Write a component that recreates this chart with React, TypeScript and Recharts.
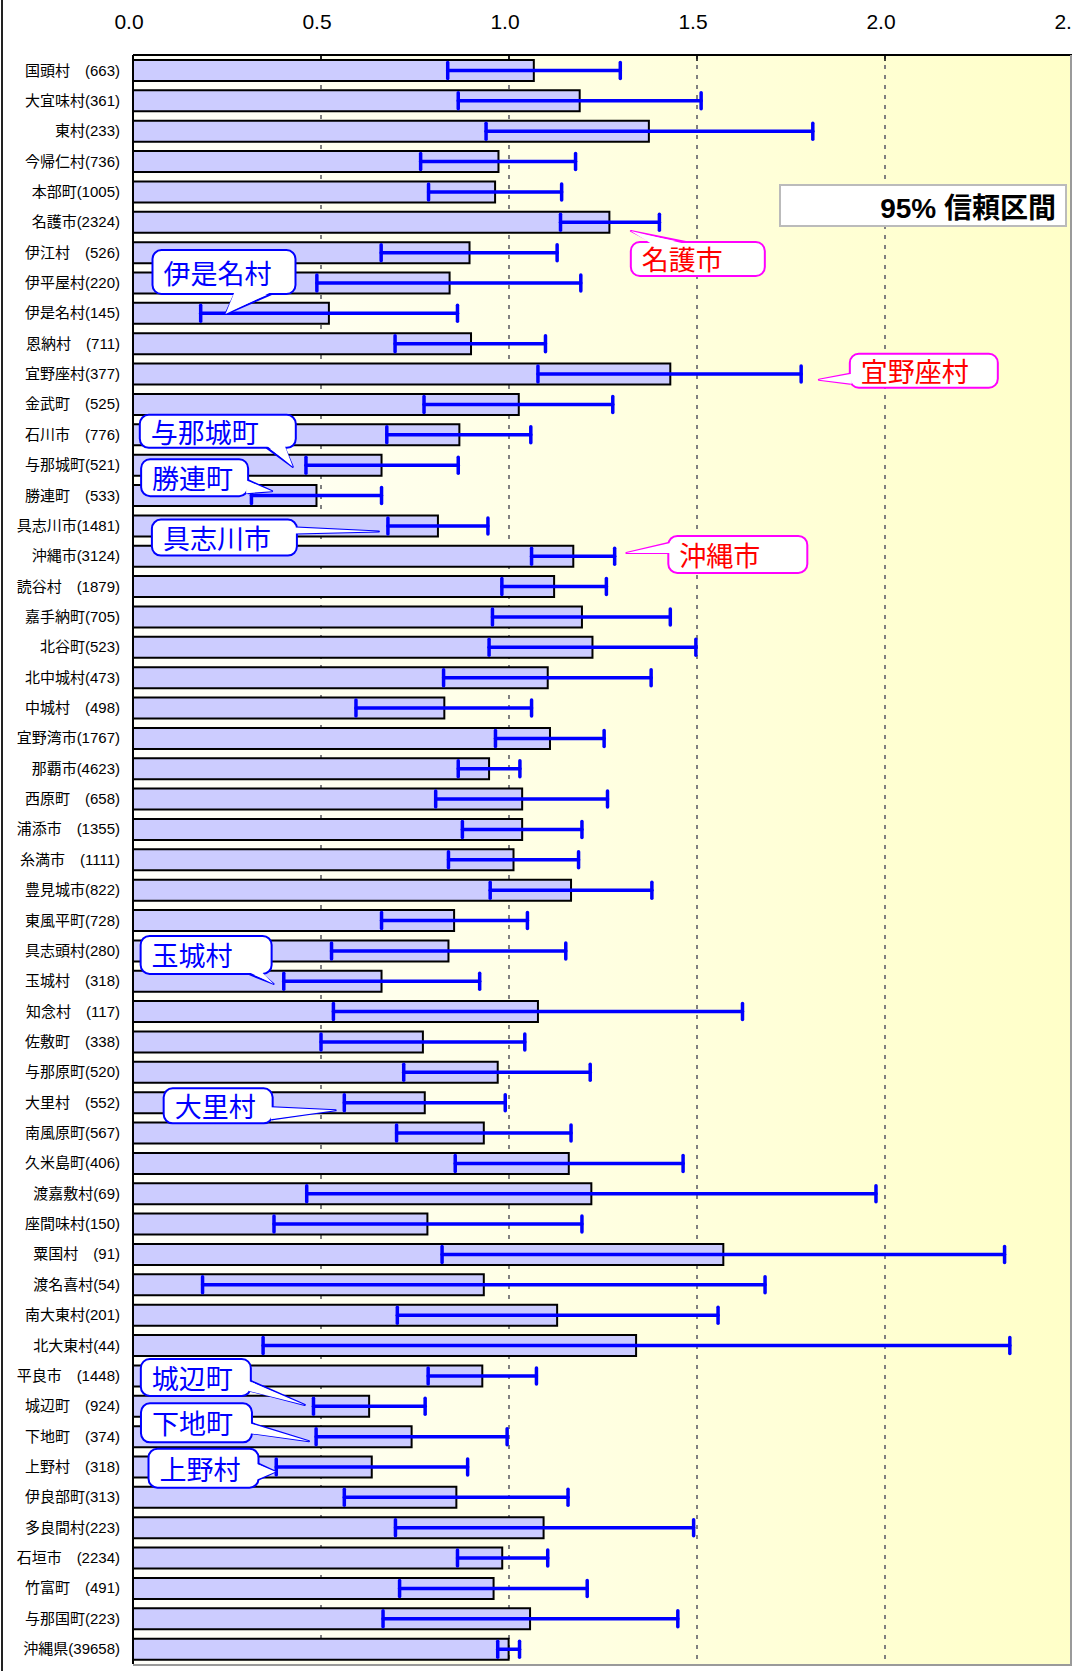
import React from 'react';
import { BarChart, Bar, XAxis, YAxis, CartesianGrid, ErrorBar, ReferenceDot } from 'recharts';

// 市町村 (人数)
const names = [
  '国頭村　(663)', '大宜味村(361)', '東村(233)', '今帰仁村(736)', '本部町(1005)', '名護市(2324)',
  '伊江村　(526)', '伊平屋村(220)', '伊是名村(145)', '恩納村　(711)', '宜野座村(377)', '金武町　(525)',
  '石川市　(776)', '与那城町(521)', '勝連町　(533)', '具志川市(1481)', '沖縄市(3124)', '読谷村　(1879)',
  '嘉手納町(705)', '北谷町(523)', '北中城村(473)', '中城村　(498)', '宜野湾市(1767)', '那覇市(4623)',
  '西原町　(658)', '浦添市　(1355)', '糸満市　(1111)', '豊見城市(822)', '東風平町(728)', '具志頭村(280)',
  '玉城村　(318)', '知念村　(117)', '佐敷町　(338)', '与那原町(520)', '大里村　(552)', '南風原町(567)',
  '久米島町(406)', '渡嘉敷村(69)', '座間味村(150)', '粟国村　(91)', '渡名喜村(54)', '南大東村(201)',
  '北大東村(44)', '平良市　(1448)', '城辺町　(924)', '下地町　(374)', '上野村　(318)', '伊良部町(313)',
  '多良間村(223)', '石垣市　(2234)', '竹富町　(491)', '与那国町(223)', '沖縄県(39658)',
];

const ratios = [
  1.066, 1.188, 1.372, 0.972, 0.963, 1.267,
  0.895, 0.842, 0.521, 0.899, 1.429, 1.026,
  0.868, 0.661, 0.488, 0.811, 1.171, 1.12,
  1.194, 1.222, 1.103, 0.828, 1.109, 0.947,
  1.035, 1.035, 1.012, 1.165, 0.854, 0.839,
  0.661, 1.077, 0.771, 0.97, 0.776, 0.933,
  1.159, 1.219, 0.783, 1.57, 0.933, 1.128,
  1.338, 0.929, 0.628, 0.741, 0.635, 0.86,
  1.092, 0.982, 0.959, 1.056, 0.999,
];

const lower = [
  0.837, 0.865, 0.939, 0.765, 0.786, 1.137,
  0.66, 0.489, 0.18, 0.697, 1.077, 0.774,
  0.675, 0.46, 0.315, 0.678, 1.06, 0.981,
  0.956, 0.947, 0.826, 0.593, 0.964, 0.865,
  0.805, 0.876, 0.839, 0.95, 0.661, 0.528,
  0.401, 0.533, 0.5, 0.72, 0.562, 0.701,
  0.857, 0.462, 0.375, 0.822, 0.185, 0.703,
  0.346, 0.785, 0.48, 0.487, 0.381, 0.562,
  0.698, 0.863, 0.709, 0.665, 0.97,
];

const upper = [
  1.296, 1.511, 1.808, 1.177, 1.14, 1.4,
  1.128, 1.191, 0.863, 1.097, 1.777, 1.276,
  1.058, 0.865, 0.661, 0.944, 1.281, 1.259,
  1.429, 1.497, 1.378, 1.06, 1.253, 1.029,
  1.262, 1.194, 1.185, 1.38, 1.049, 1.151,
  0.922, 1.621, 1.042, 1.216, 0.99, 1.165,
  1.463, 1.976, 1.194, 2.318, 1.681, 1.556,
  2.332, 1.073, 0.777, 0.995, 0.89, 1.157,
  1.491, 1.103, 1.208, 1.449, 1.028,
];

const xTicks = [0, 0.5, 1, 1.5, 2, 2.5];

const data = names.map((name, i) => ({
  name,
  ratio: ratios[i],
  ci: [ratios[i] - lower[i], upper[i] - ratios[i]],
}));

// 吹き出し: row = names の位置, at = 指す値
type Side = 'top' | 'bottom' | 'left' | 'right';
type Callout = {
  row: number; at: number; text: string; tone: 'blue' | 'red';
  tipDy: number; box: [number, number, number, number]; side: Side; tail: [number, number];
};

const callouts: Callout[] = [
  { row: 8, at: 0.246, text: '伊是名村', tone: 'blue', tipDy: 1, box: [-73, -64, 143, 44], side: 'bottom', tail: [9, 46] },
  { row: 5, at: 1.324, text: '名護市', tone: 'red', tipDy: 9, box: [0, 11, 134, 34], side: 'top', tail: [21, 55] },
  { row: 10, at: 1.824, text: '宜野座村', tone: 'red', tipDy: 6, box: [31, -26, 148, 34], side: 'left', tail: [-6, 4] },
  { row: 13, at: 0.425, text: '与那城町', tone: 'blue', tipDy: 2, box: [-153, -52, 156, 33], side: 'bottom', tail: [-26, -8] },
  { row: 14, at: 0.37, text: '勝連町', tone: 'blue', tipDy: -4, box: [-131, -32, 107, 37], side: 'right', tail: [-11, 2] },
  { row: 15, at: 0.654, text: '具志川市', tone: 'blue', tipDy: 6, box: [-227, -12, 145, 36], side: 'right', tail: [-4, 2] },
  { row: 16, at: 1.312, text: '沖縄市', tone: 'red', tipDy: -3, box: [42, -17, 139, 37], side: 'left', tail: [-10, 0] },
  { row: 30, at: 0.374, text: '玉城村', tone: 'blue', tipDy: 3, box: [-133, -48, 131, 38], side: 'bottom', tail: [-25, -12] },
  { row: 34, at: 0.539, text: '大里村', tone: 'blue', tipDy: 8, box: [-172, -22, 109, 35], side: 'right', tail: [-3, 9] },
  { row: 44, at: 0.457, text: '城辺町', tone: 'blue', tipDy: -1, box: [-164, -46, 110, 37], side: 'right', tail: [-24, -14] },
  { row: 45, at: 0.468, text: '下地町', tone: 'blue', tipDy: 5, box: [-168, -38, 111, 39], side: 'right', tail: [-18, -8] },
  { row: 46, at: 0.379, text: '上野村', tone: 'blue', tipDy: 5, box: [-127, -23, 110, 39], side: 'right', tail: [-8, 8] },
];

const Bubble = ({ cx, cy, c }: { cx: number; cy: number; c: Callout }) => {
  const tx = cx;
  const ty = cy + c.tipDy;
  const [bx, by, bw, bh] = c.box;
  const x0 = tx + bx;
  const y0 = ty + by;
  const border = c.tone === 'red' ? '#FF00FF' : '#0000FF';
  const color = c.tone === 'red' ? '#FF0000' : '#0000FF';
  const basePts = (inset: number) => {
    const [a, b] = c.tail;
    if (c.side === 'bottom') return [[tx + a, y0 + bh - inset], [tx + b, y0 + bh - inset]];
    if (c.side === 'top') return [[tx + a, y0 + inset], [tx + b, y0 + inset]];
    if (c.side === 'left') return [[x0 + inset, ty + a], [x0 + inset, ty + b]];
    return [[x0 + bw - inset, ty + a], [x0 + bw - inset, ty + b]];
  };
  const poly = (inset: number) => {
    const [p, q] = basePts(inset);
    return `${p[0]},${p[1]} ${tx},${ty} ${q[0]},${q[1]}`;
  };
  return (
    <g>
      <polygon points={poly(0)} fill="#fff" stroke={border} strokeWidth={2} strokeLinejoin="round" />
      <rect x={x0} y={y0} width={bw} height={bh} rx={9} ry={9} fill="#fff" stroke={border} strokeWidth={2} />
      <polygon points={poly(2)} fill="#fff" stroke="none" />
      <text
        x={x0 + 11}
        y={y0 + bh / 2}
        dominantBaseline="central"
        fontSize={27}
        fill={color}
        fontFamily="'Noto Sans CJK JP', sans-serif"
      >
        {c.text}
      </text>
    </g>
  );
};

const App: React.FC = () => {
  return (
    <div
      style={{
        position: 'absolute',
        left: 0,
        top: 0,
        width: 1072,
        height: 1671,
        overflow: 'hidden',
        background: '#fff',
        fontFamily: "'Liberation Sans', 'Noto Sans CJK JP', sans-serif",
      }}
    >
      <BarChart
        width={1074}
        height={1671}
        data={data}
        layout="vertical"
        margin={{ top: 0, right: 1, left: 0, bottom: 7 }}
      >
        <defs>
          <linearGradient id="plotBg" x1="0" y1="0" x2="1" y2="0">
            <stop offset="0%" stopColor="#FFFFFA" />
            <stop offset="100%" stopColor="#FFFFC8" />
          </linearGradient>
        </defs>
        <CartesianGrid
          horizontal={false}
          stroke="#808080"
          strokeWidth={2}
          strokeDasharray="4 6"
          fill="url(#plotBg)"
          fillOpacity={1}
        />
        <XAxis
          type="number"
          orientation="top"
          domain={[0, 2.5]}
          ticks={xTicks}
          interval={0}
          allowDataOverflow
          height={55}
          tickFormatter={(v) => Number(v).toFixed(1)}
          tick={{ fontSize: 21, fill: '#000', dx: -4 }}
          tickSize={-6}
          tickMargin={32}
          tickLine={{ stroke: '#000', strokeWidth: 1.5 }}
          axisLine={{ stroke: '#000', strokeWidth: 2 }}
        />
        <YAxis
          type="category"
          dataKey="name"
          width={133}
          interval={0}
          tickSize={0}
          tickMargin={13}
          tickLine={false}
          tick={{ fontSize: 15, fill: '#000' }}
          axisLine={{ stroke: '#000', strokeWidth: 2 }}
        />
        <Bar
          dataKey="ratio"
          fill="#CCCCFF"
          stroke="#000"
          strokeWidth={2}
          barSize={21}
          isAnimationActive={false}
        >
          <ErrorBar
            dataKey="ci"
            direction="x"
            width={8}
            strokeWidth={3.5}
            stroke="#0000FF"
            strokeLinecap="round"
            isAnimationActive={false}
          />
        </Bar>
        {callouts.map((c) => (
          <ReferenceDot
            key={c.text}
            x={c.at}
            y={names[c.row]}
            r={0}
            ifOverflow="visible"
            shape={(p: any) => <Bubble cx={p.cx} cy={p.cy} c={c} />}
          />
        ))}
      </BarChart>
      {/* 外枠 */}
      <div style={{ position: 'absolute', left: 1, top: 0, width: 2, height: 1671, background: '#222' }} />
      <div style={{ position: 'absolute', left: 1070, top: 55, width: 2, height: 1611, background: '#9a9a9a' }} />
      <div style={{ position: 'absolute', left: 133, top: 1664, width: 940, height: 2, background: '#9a9a9a' }} />
      <div
        style={{
          position: 'absolute',
          left: 779,
          top: 184,
          width: 284,
          height: 39,
          border: '2px solid #BBBBBB',
          background: '#fff',
          boxSizing: 'content-box',
          display: 'flex',
          alignItems: 'center',
          justifyContent: 'flex-end',
        }}
      >
        <span style={{ fontSize: 28, fontWeight: 'bold', color: '#000', marginRight: 9, whiteSpace: 'pre' }}>
          95% 信頼区間
        </span>
      </div>
    </div>
  );
};

export default App;
